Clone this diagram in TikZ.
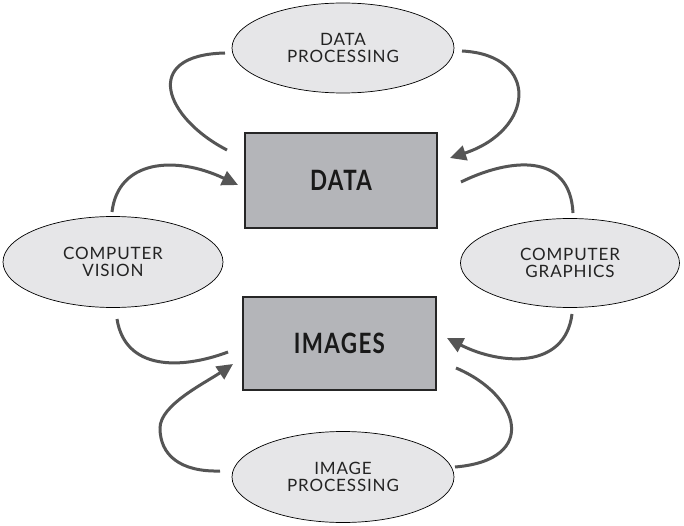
\documentclass[tikz,border=0pt]{standalone}
\usepackage{fontspec}
\setmainfont{Lato}
\usetikzlibrary{shapes.geometric,arrows.meta}
\definecolor{ellfill}{RGB}{230,230,232}
\definecolor{boxfill}{RGB}{180,181,185}
\definecolor{arrowc}{RGB}{85,85,85}
\definecolor{txtc}{RGB}{35,35,35}
\tikzset{
  topic/.style={ellipse, draw=black, line width=0.7pt, fill=ellfill, inner sep=0pt,
    text=txtc, align=center, font=\fontsize{17}{17.5}\selectfont\addfontfeatures{LetterSpace=5}},
  core/.style={rectangle, draw=black!85, line width=1.8pt, fill=boxfill, inner sep=0pt,
    text=black!90, font=\fontsize{28}{30}\selectfont\bfseries\addfontfeatures{LetterSpace=6}},
  link/.style={draw=arrowc, line width=3pt},
  arrowlink/.style={link, -{Triangle[length=16pt,width=15pt]}},
}
\begin{document}
\begin{tikzpicture}[x=1pt,y=-1pt]
\useasboundingbox (0,0) rectangle (684,526);
\fill[white] (0,0) rectangle (684,526);
% nodes
\node[topic, minimum width=222pt, minimum height=90pt] (dp) at (343,48) {DATA\\PROCESSING};
\node[topic, minimum width=220pt, minimum height=91pt] (cv) at (113,262) {COMPUTER\\VISION};
\node[topic, minimum width=219pt, minimum height=89pt] (cg) at (570,263) {COMPUTER\\GRAPHICS};
\node[topic, minimum width=222pt, minimum height=91pt] (ip) at (343,477) {IMAGE\\PROCESSING};
\node[core, minimum width=192pt, minimum height=95pt] (data) at (341,180.5) {\scalebox{0.8}[1]{DATA}};
\node[core, minimum width=193pt, minimum height=93pt] (images) at (339.5,343.5) {\scalebox{0.8}[1]{IMAGES}};
% connector end points
\coordinate (d1) at (227,150);
\coordinate (p1) at (225,53);
\coordinate (p2) at (462,51);
\coordinate (d2) at (450,158);
\coordinate (v1) at (112,212);
\coordinate (d3) at (238,185);
\coordinate (d4) at (461,182);
\coordinate (g1) at (573,213);
\coordinate (v2) at (117,319);
\coordinate (i1) at (228,352);
\coordinate (g2) at (572,314);
\coordinate (i2) at (447,338);
\coordinate (i3) at (456,368);
\coordinate (q1) at (455,467);
\coordinate (q2) at (220,471);
\coordinate (qm) at (160,428);
\coordinate (i4) at (233,364);
% connectors
\draw[link] (d1) .. controls (165,118) and (140,55) .. (p1);
\draw[arrowlink] (p2) .. controls (540,55) and (535,130) .. (d2);
\draw[arrowlink] (v1) .. controls (118,160) and (175,155) .. (d3);
\draw[link] (d4) .. controls (510,158) and (570,152) .. (g1);
\draw[link] (v2) .. controls (125,370) and (180,370) .. (i1);
\draw[arrowlink] (g2) .. controls (565,370) and (500,365) .. (i2);
\draw[link] (i3) .. controls (520,395) and (540,460) .. (q1);
\draw[arrowlink] (q2) .. controls (180,472) and (160,455) .. (qm) .. controls (160,405) and (205,383) .. (i4);
\end{tikzpicture}
\end{document}
